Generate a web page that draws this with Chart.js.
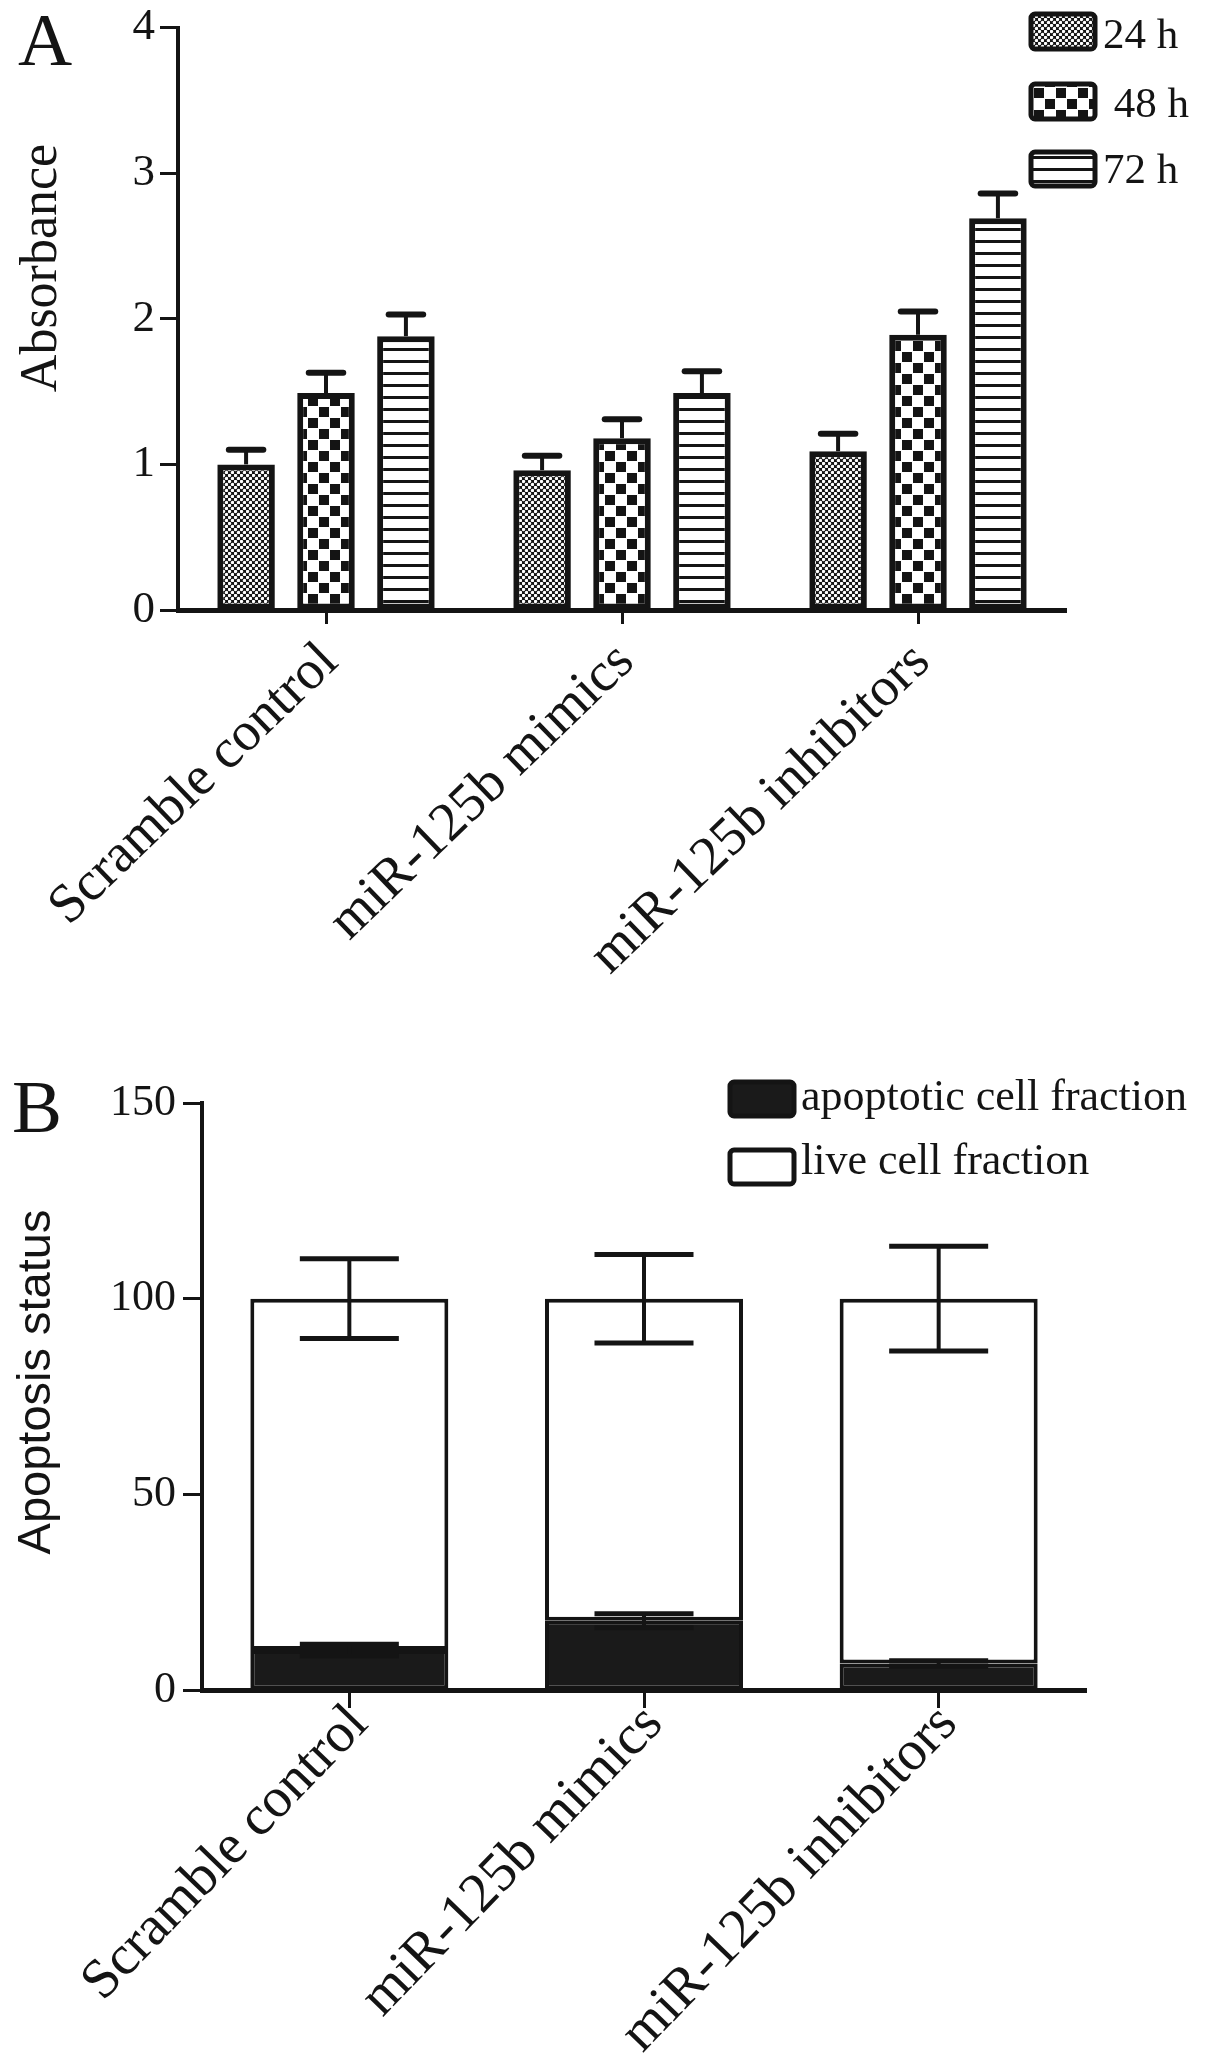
<!DOCTYPE html>
<html>
<head>
<meta charset="utf-8">
<script src="https://cdn.jsdelivr.net/npm/chart.js@4.4.1/dist/chart.umd.min.js"></script>
<style>
  html, body { margin: 0; padding: 0; background: #fff; }
  .panel { position: absolute; left: 0; width: 1205px; }
  #wrapA { top: 0; height: 1040px; }
  #wrapB { top: 1040px; height: 1023px; }
</style>
</head>
<body>
<div id="wrapA" class="panel"><canvas id="chartA" width="1205" height="1040"></canvas></div>
<div id="wrapB" class="panel"><canvas id="chartB" width="1205" height="1023"></canvas></div>
<script>
// panel A data
const groups = ["Scramble control", "miR-125b mimics", "miR-125b inhibitors"];
const timeLabels = ["24 h", "48 h", "72 h"];
const abs24 = [1.0, 0.96, 1.09];
const abs48 = [1.49, 1.18, 1.89];
const abs72 = [1.88, 1.49, 2.69];
const err24 = [0.10, 0.10, 0.12];
const err48 = [0.14, 0.13, 0.16];
const err72 = [0.15, 0.15, 0.17];

// panel B data
const fractionLabels = ["apoptotic cell fraction", "live cell fraction"];
const apoptotic = [10.2, 17.7, 6.8];
const live = [89.8, 82.3, 93.2];
const apoptoticErr = [1.5, 1.8, 0.7];
const liveErr = [10.2, 11.3, 13.4];

const black = '#141414';
const serif = '"Liberation Serif", "Times New Roman", serif';
const sans = '"Liberation Sans", Arial, sans-serif';

function makePattern(kind) {
  const c = document.createElement('canvas');
  const g = c.getContext('2d');
  if (kind === 'dots') {
    c.width = 6; c.height = 6;
    g.fillStyle = black; g.fillRect(0, 0, 6, 6);
    g.fillStyle = '#fff';
    g.beginPath(); g.arc(1.5, 1.5, 1.7, 0, Math.PI * 2); g.fill();
    g.beginPath(); g.arc(4.5, 4.5, 1.7, 0, Math.PI * 2); g.fill();
  } else if (kind === 'checks') {
    c.width = 22; c.height = 22;
    g.fillStyle = '#fff'; g.fillRect(0, 0, 22, 22);
    g.fillStyle = black;
    g.fillRect(0, 0, 10, 10);
    g.fillRect(11, 11, 10, 10);
  } else {
    c.width = 4; c.height = 12;
    g.fillStyle = '#fff'; g.fillRect(0, 0, 4, 12);
    g.fillStyle = black; g.fillRect(0, 0, 4, 3);
  }
  return g.createPattern(c, 'repeat');
}

function box(ctx, x, y, w, h, fill, lw) {
  ctx.save();
  ctx.beginPath();
  if (ctx.roundRect) ctx.roundRect(x, y, w, h, 4); else ctx.rect(x, y, w, h);
  ctx.fillStyle = fill;
  ctx.fill();
  ctx.lineWidth = lw;
  ctx.strokeStyle = black;
  ctx.stroke();
  ctx.restore();
}

const errorBars = {
  id: 'errorBars',
  afterDatasetsDraw(chart, args, opts) {
    const ctx = chart.ctx, ys = chart.scales.y;
    ctx.save();
    ctx.strokeStyle = black;
    chart.data.datasets.forEach((ds, di) => {
      const meta = chart.getDatasetMeta(di);
      meta.data.forEach((bar, i) => {
        const err = ds.errors[i];
        const topVal = ys.getValueForPixel(bar.y);
        const yUp = ys.getPixelForValue(topVal + err);
        const yDown = opts.both ? ys.getPixelForValue(topVal - err) : bar.y;
        const half = bar.width * opts.cap / 2;
        ctx.lineCap = 'butt';
        ctx.lineWidth = opts.stem;
        ctx.beginPath(); ctx.moveTo(bar.x, yDown); ctx.lineTo(bar.x, yUp); ctx.stroke();
        ctx.lineCap = opts.round ? 'round' : 'butt';
        ctx.lineWidth = opts.capWidth;
        ctx.beginPath();
        ctx.moveTo(bar.x - half, yUp); ctx.lineTo(bar.x + half, yUp);
        if (opts.both) { ctx.moveTo(bar.x - half, yDown); ctx.lineTo(bar.x + half, yDown); }
        ctx.stroke();
      });
    });
    ctx.restore();
  }
};

const panelText = {
  id: 'panelText',
  afterDraw(chart, args, o) {
    const ctx = chart.ctx;
    ctx.save();
    ctx.fillStyle = black;
    ctx.textBaseline = 'alphabetic';
    ctx.font = '75px ' + serif;
    ctx.fillText(o.letter, o.letterX, o.letterY);
    ctx.save();
    ctx.translate(o.titleX, o.titleY);
    ctx.rotate(-Math.PI / 2);
    ctx.font = o.titleFont;
    ctx.textAlign = 'center';
    ctx.textBaseline = 'middle';
    ctx.fillText(o.title, 0, 0);
    ctx.restore();
    o.legend.forEach((it, i) => {
      const ds = chart.data.datasets[i];
      box(ctx, it.x, it.y, it.w, it.h, ds.backgroundColor, o.legendBorder);
      ctx.fillStyle = black;
      ctx.font = o.legendFont;
      ctx.fillText(it.pre + ds.label, it.tx, it.ty);
    });
    ctx.restore();
  }
};

function tickFont(size) { return { family: serif, size: size, lineHeight: 1 }; }

new Chart(document.getElementById('chartA'), {
  type: 'bar',
  data: {
    labels: groups,
    datasets: [
      { label: timeLabels[0], data: abs24, errors: err24, backgroundColor: makePattern('dots') },
      { label: timeLabels[1], data: abs48, errors: err48, backgroundColor: makePattern('checks') },
      { label: timeLabels[2], data: abs72, errors: err72, backgroundColor: makePattern('stripes') }
    ]
  },
  options: {
    responsive: false,
    animation: false,
    layout: { padding: { top: 25, right: 139, left: 0, bottom: 0 } },
    datasets: { bar: { borderColor: black, borderWidth: 6, borderSkipped: false, categoryPercentage: 0.81, barPercentage: 0.72 } },
    plugins: {
      legend: { display: false },
      tooltip: { enabled: false },
      errorBars: { both: false, cap: 0.6, stem: 4, capWidth: 6, round: true },
      panelText: {
        letter: 'A', letterX: 18, letterY: 65,
        title: 'Absorbance', titleX: 42, titleY: 268, titleFont: '52px ' + serif,
        legendFont: '43px ' + serif, legendBorder: 5,
        legend: [
          { x: 1031, y: 14, w: 64, h: 35, tx: 1103, ty: 48, pre: '' },
          { x: 1031, y: 84, w: 64, h: 35, tx: 1103, ty: 117, pre: ' ' },
          { x: 1031, y: 152, w: 64, h: 34, tx: 1103, ty: 183, pre: '' }
        ]
      }
    },
    scales: {
      x: {
        offset: true,
        grid: { display: true, offset: false, drawOnChartArea: false, tickLength: 14, tickWidth: 3, tickColor: black },
        border: { color: black, width: 5 },
        ticks: { color: black, font: tickFont(55), minRotation: 44, maxRotation: 44, autoSkip: false, padding: 10, labelOffset: 4 },
        afterFit: s => { s.height = 430; }
      },
      y: {
        min: 0, max: 4,
        grid: { drawOnChartArea: false, tickLength: 18, tickWidth: 3, tickColor: black },
        border: { color: black, width: 4 },
        ticks: { stepSize: 1, color: black, font: tickFont(45), padding: 5 },
        afterFit: s => { s.width = 178; }
      }
    }
  },
  plugins: [errorBars, panelText]
});

new Chart(document.getElementById('chartB'), {
  type: 'bar',
  data: {
    labels: groups,
    datasets: [
      { label: fractionLabels[0], data: apoptotic, errors: apoptoticErr, backgroundColor: '#1a1a1a' },
      { label: fractionLabels[1], data: live, errors: liveErr, backgroundColor: '#ffffff' }
    ]
  },
  options: {
    responsive: false,
    animation: false,
    layout: { padding: { top: 63, right: 119, left: 0, bottom: 0 } },
    datasets: { bar: { borderColor: black, borderWidth: 4, borderSkipped: false, categoryPercentage: 0.8, barPercentage: 0.84 } },
    plugins: {
      legend: { display: false },
      tooltip: { enabled: false },
      errorBars: { both: true, cap: 0.5, stem: 4, capWidth: 5, round: false },
      panelText: {
        letter: 'B', letterX: 12, letterY: 92,
        title: 'Apoptosis status', titleX: 37, titleY: 342, titleFont: '47px ' + sans,
        legendFont: '44px ' + serif, legendBorder: 5,
        legend: [
          { x: 730, y: 42, w: 64, h: 34, tx: 801, ty: 70, pre: '' },
          { x: 730, y: 110, w: 64, h: 34, tx: 801, ty: 134, pre: '' }
        ]
      }
    },
    scales: {
      x: {
        stacked: true,
        offset: true,
        grid: { display: true, offset: false, drawOnChartArea: false, tickLength: 18, tickWidth: 3, tickColor: black },
        border: { color: black, width: 5 },
        ticks: { color: black, font: tickFont(56), minRotation: 46, maxRotation: 46, autoSkip: false, padding: -12, labelOffset: 10 },
        afterFit: s => { s.height = 373; }
      },
      y: {
        stacked: true,
        min: 0, max: 150,
        grid: { drawOnChartArea: false, tickLength: 19, tickWidth: 3, tickColor: black },
        border: { color: black, width: 4 },
        ticks: { stepSize: 50, color: black, font: tickFont(44), padding: 7 },
        afterFit: s => { s.width = 202; }
      }
    }
  },
  plugins: [errorBars, panelText]
});
</script>
</body>
</html>
